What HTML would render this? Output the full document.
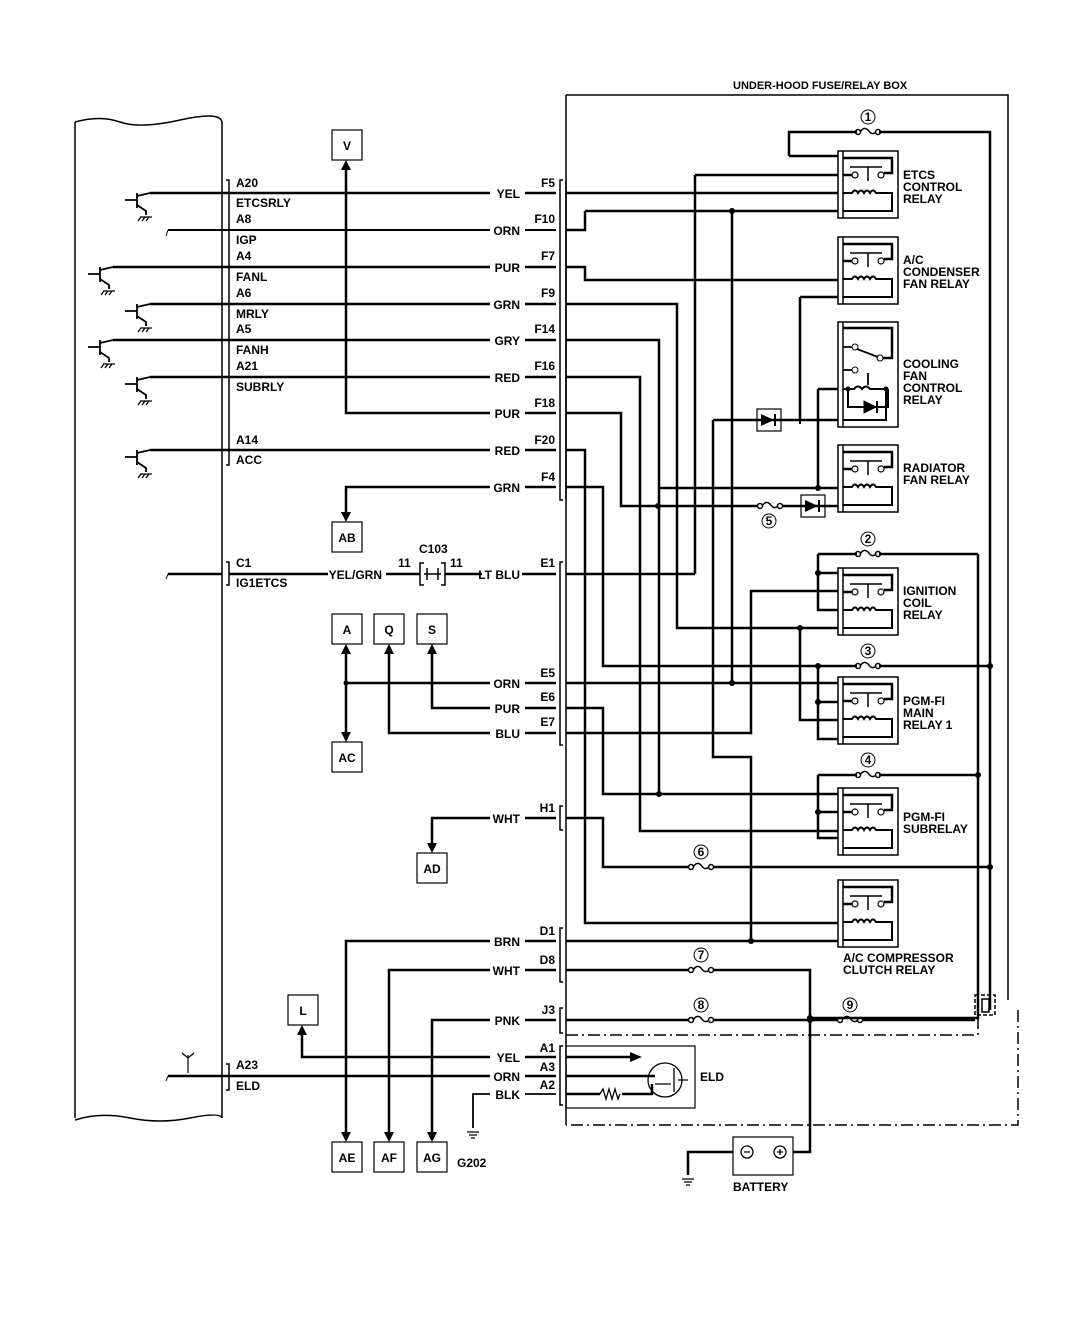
<!DOCTYPE html>
<html><head><meta charset="utf-8"><style>
html,body{margin:0;padding:0;background:#fff;}
svg{display:block;}
text{font-family:"Liberation Sans",sans-serif;font-weight:bold;font-size:12px;fill:#000;}
</style></head><body>
<svg width="1072" height="1334" viewBox="0 0 1072 1334" xmlns="http://www.w3.org/2000/svg">
<defs>
<g id="rl" fill="none" stroke="#000">
<rect x="0" y="0" width="60" height="67" stroke-width="1.5"/>
<line x1="5" y1="0" x2="5" y2="67" stroke-width="1.5"/>
<path d="M5,7 H54 V22 H46" stroke-width="2.5"/>
<circle cx="17" cy="24" r="3" stroke-width="1.2"/><circle cx="43" cy="24" r="3" stroke-width="1.2"/>
<path d="M5,24 H14" stroke-width="2.5"/>
<path d="M12,16 H44 M30,16 V30" stroke-width="1.5"/>
<path d="M5,42 H14 Q17,37 20,42 Q23,37 26,42 Q29,37 32,42 Q35,37 38,42 H54 V60 H5" stroke-width="2"/>
</g>
<g id="tr" fill="none" stroke="#000" stroke-width="1.3">
<path d="M-25,7 H-13 M-13,0 V15 M-13,3 L0,0 M-13,12 L-4,18 V22" stroke-width="1.8"/>
<path d="M-10,24 H2 M-9,24 L-12,28 M-5,24 L-8,28 M-1,24 L-4,28"/>
</g>
<g id="fuse" fill="none" stroke="#000" stroke-width="1.5">
<circle cx="-10" cy="0" r="2.5"/><circle cx="10" cy="0" r="2.5"/>
<path d="M-8,0 Q-4,-6 0,-2 Q4,4 8,0"/>
</g>
<g id="gnd" stroke="#000" stroke-width="1.3"><path d="M-6,0 H6 M-4,3 H4 M-2,6 H2"/></g>
</defs>

<g fill="none" stroke="#000" stroke-width="1.5">
<path d="M75,122 Q100,115 120,122 T180,120 T222,122"/>
<path d="M75,1120 Q100,1112 130,1118 T190,1118 T222,1118"/>
<line x1="75" y1="122" x2="75" y2="1118"/>
<line x1="222" y1="122" x2="222" y2="1118"/>
<path d="M226,180 H229 V465 H226 M229,180 V465"/>
<path d="M226,562 H229 V585 H226"/>
<path d="M226,1064 H229 V1090 H226"/>
<path d="M563,180 H560 V500 H563 M566,180 V500"/>
<path d="M563,562 H560 V745 H563"/>
<path d="M563,806 H560 V830 H563"/>
<path d="M563,928 H560 V982 H563"/>
<path d="M563,1008 H560 V1033 H563"/>
<path d="M563,1046 H560 V1105 H563"/>
<path d="M566,95 H1008 V1000"/>
<line x1="566" y1="95" x2="566" y2="1125"/>
<path d="M566,1035 H978 V1015" stroke-dasharray="12,4,2,4"/>
<path d="M1018,1010 V1125 H566" stroke-dasharray="12,4,2,4"/>
<rect x="975" y="995" width="20" height="20" stroke-dasharray="4,2"/>
<rect x="982" y="999" width="7" height="13"/>
</g>

<g fill="none" stroke="#000" stroke-width="2.5">
<path d="M150,193 H490 M525,193 H556 M566,193 H838"/>
<path d="M168,230 H490 M525,230 H556" stroke-width="2"/>
<path d="M113,267 H490 M525,267 H556"/>
<path d="M150,304 H490 M525,304 H556"/>
<path d="M113,340 H490 M525,340 H556"/>
<path d="M150,377 H490 M525,377 H556"/>
<path d="M346,165 V413 H490 M525,413 H556"/>
<path d="M150,450 H490 M525,450 H556"/>
<path d="M346,518 V487 H490 M525,487 H556"/>
<path d="M168,574 H222 M229,574 H328 M386,574 H420 M445,574 H482 M522,574 H556"/>
<path d="M346,648 V740 M346,683 H490 M525,683 H556"/>
<path d="M432,648 V708 H490 M525,708 H556"/>
<path d="M389,648 V733 H490 M525,733 H556"/>
<path d="M432,849 V818 H490 M525,818 H556"/>
<path d="M346,1138 V941 H490 M525,941 H556"/>
<path d="M389,1138 V970 H490 M525,970 H556"/>
<path d="M432,1138 V1020 H490 M525,1020 H556"/>
<path d="M302,1030 V1057 H490 M525,1057 H556"/>
<path d="M168,1076 H490 M525,1076 H556"/>
<path d="M490,1094 H473 V1128 M525,1094 H556" stroke-width="1.8"/>
<path d="M585,211 H838"/>
<path d="M566,230 H585 V211"/>
<path d="M566,267 H585 V280 H838"/>
<path d="M695,175 H838 M695,175 V574 M566,574 H695"/>
<path d="M732,211 V683"/>
<path d="M566,304 H677 V628 H838 M800,628 V720 H838"/>
<path d="M566,340 H659 V794 M659,488 H838"/>
<path d="M566,377 H640 V831 H838"/>
<path d="M566,413 H621 V506 H757 M783,506 H838"/>
<path d="M566,450 H585 V923 H838"/>
<path d="M566,487 H603 V666 H857 M879,666 H990"/>
<path d="M800,297 H838 M800,297 V420"/>
<path d="M713,420 H838 M713,420 V757 H751 V941"/>
<path d="M818,389 H838 M818,389 V488"/>
<path d="M566,683 H838"/>
<path d="M566,708 H603 V794 H838"/>
<path d="M566,733 H751 V591 H838"/>
<path d="M566,818 H603 V867 H688 M714,867 H990"/>
<path d="M566,941 H838"/>
<path d="M818,554 H857 M879,554 H978 M818,554 V610 H838 M818,573 H838"/>
<path d="M818,666 V739 H838 M818,702 H838"/>
<path d="M818,775 H857 M879,775 H978 M818,775 V838 H838 M818,812 H838"/>
<path d="M789,156 H838 M789,156 V132 H857 M879,132 H990 V1010"/>
<path d="M978,554 V1018 H810"/>
<path d="M566,970 H688 M714,970 H810 V1125"/>
<path d="M566,1020 H688 M714,1020 H838 M862,1020 H975"/>
<path d="M566,1057 H632"/>
<path d="M566,1076 H655 M566,1094 H600 M622,1094 H652 V1084"/>
<path d="M793,1152 H810 V1125 M733,1152 H688 V1175"/>
</g>

<g fill="#000">
<circle cx="732" cy="211" r="3"/><circle cx="658" cy="506" r="3"/><circle cx="818" cy="488" r="3"/>
<circle cx="818" cy="573" r="3"/><circle cx="800" cy="628" r="3"/><circle cx="818" cy="666" r="3"/>
<circle cx="990" cy="666" r="3"/><circle cx="732" cy="683" r="3"/><circle cx="818" cy="702" r="3"/>
<circle cx="978" cy="775" r="3"/><circle cx="659" cy="794" r="3"/><circle cx="818" cy="812" r="3"/>
<circle cx="990" cy="867" r="3"/><circle cx="751" cy="941" r="3"/><circle cx="810" cy="1018" r="3"/>
<circle cx="810" cy="1020" r="3"/><circle cx="346" cy="683" r="2.5"/>
<path d="M346,160 l-5,10 h10z"/><path d="M346,522 l-5,-10 h10z"/>
<path d="M346,644 l-5,10 h10z"/><path d="M346,742 l-5,-10 h10z"/>
<path d="M389,644 l-5,10 h10z"/><path d="M432,644 l-5,10 h10z"/>
<path d="M432,853 l-5,-10 h10z"/>
<path d="M346,1142 l-5,-10 h10z"/><path d="M389,1142 l-5,-10 h10z"/><path d="M432,1142 l-5,-10 h10z"/>
<path d="M302,1025 l-5,10 h10z"/><path d="M642,1057 l-12,-5 v10z"/>
</g>

<use href="#rl" x="838" y="151"/>
<use href="#rl" x="838" y="237"/>
<use href="#rl" x="838" y="445"/>
<use href="#rl" x="838" y="568"/>
<use href="#rl" x="838" y="677"/>
<use href="#rl" x="838" y="788"/>
<use href="#rl" x="838" y="880"/>
<g fill="none" stroke="#000">
<rect x="838" y="322" width="60" height="105" stroke-width="1.5"/>
<line x1="843" y1="322" x2="843" y2="427" stroke-width="1.5"/>
<path d="M843,328 H892 V358 H883" stroke-width="2.5"/>
<circle cx="855" cy="347" r="3"/><circle cx="880" cy="358" r="3"/><circle cx="855" cy="370" r="3"/>
<path d="M843,347 H852 M843,370 H852 M857,349 L878,357 M868,373 V385" stroke-width="1.8"/>
<path d="M843,389 H854 Q858,384 862,389 Q866,384 870,389 H886 V420 H843 M848,389 V407 H888 V389" stroke-width="2"/>
<path d="M864,401 v12 l12,-6z" fill="#000"/><path d="M877,401 v12" stroke-width="2"/>
</g>
<g fill="#000"><circle cx="848" cy="389" r="2.5"/><circle cx="886" cy="389" r="2.5"/></g>
<g fill="none" stroke="#000" stroke-width="1.2">
<rect x="757" y="409" width="24" height="22"/><rect x="801" y="495" width="24" height="22"/>
</g>
<g fill="#000"><path d="M761,414 v12 l13,-6z"/><rect x="774" y="414" width="2" height="12"/>
<path d="M805,500 v12 l13,-6z"/><rect x="818" y="500" width="2" height="12"/></g>
<line x1="800" y1="420" x2="800" y2="424" stroke="#000" stroke-width="2"/>

<use href="#fuse" x="868" y="132"/><use href="#fuse" x="868" y="554"/>
<use href="#fuse" x="868" y="666"/><use href="#fuse" x="868" y="775"/>
<use href="#fuse" x="770" y="506"/><use href="#fuse" x="701" y="867"/>
<use href="#fuse" x="701" y="970"/><use href="#fuse" x="701" y="1020"/>
<use href="#fuse" x="850" y="1020"/>
<g fill="none" stroke="#000" stroke-width="1"><circle cx="868" cy="117" r="7"/><circle cx="868" cy="539" r="7"/>
<circle cx="868" cy="651" r="7"/><circle cx="868" cy="760" r="7"/><circle cx="769" cy="521" r="7"/>
<circle cx="701" cy="852" r="7"/><circle cx="701" cy="955" r="7"/><circle cx="701" cy="1005" r="7"/>
<circle cx="850" cy="1005" r="7"/></g>
<g text-anchor="middle" style="font-size:10px">
<text x="868" y="121">1</text><text x="868" y="543">2</text><text x="868" y="655">3</text><text x="868" y="764">4</text>
<text x="769" y="525">5</text><text x="701" y="856">6</text><text x="701" y="959">7</text><text x="701" y="1009">8</text><text x="850" y="1009">9</text>
</g>

<use href="#tr" x="150" y="193"/><use href="#tr" x="113" y="267"/><use href="#tr" x="150" y="304"/>
<use href="#tr" x="113" y="340"/><use href="#tr" x="150" y="377"/><use href="#tr" x="150" y="450"/>
<path d="M168,230 l-2,6 M168,574 l-2,5 M168,1076 l-2,5" stroke="#000" stroke-width="1"/>
<path d="M188,1055 v18 M182,1053 l6,5 l6,-5" fill="none" stroke="#000" stroke-width="1.2"/>

<g fill="none" stroke="#000" stroke-width="1.5"><path d="M424,563 h-4 v22 h4 M441,563 h4 v22 h-4 M424,574 h17 M427,568 v12 M438,568 v12"/></g>

<g fill="#fff" stroke="#000" stroke-width="1.2">
<rect x="332" y="130" width="30" height="30"/><rect x="332" y="522" width="30" height="30"/>
<rect x="332" y="614" width="30" height="30"/><rect x="374" y="614" width="30" height="30"/><rect x="417" y="614" width="30" height="30"/>
<rect x="332" y="742" width="30" height="30"/><rect x="417" y="853" width="30" height="30"/>
<rect x="288" y="995" width="30" height="30"/>
<rect x="332" y="1142" width="30" height="30"/><rect x="374" y="1142" width="30" height="30"/><rect x="417" y="1142" width="30" height="30"/>
<rect x="733" y="1137" width="60" height="38"/>
<rect x="566" y="1046" width="129" height="62" fill="none"/>
</g>
<g fill="none" stroke="#000" stroke-width="1.3">
<circle cx="665" cy="1080" r="17"/><path d="M674,1068 v24 M678,1080 h10 M655,1084 h16" />
<path d="M600,1094 l3,-5 l3,10 l3,-10 l3,10 l3,-10 l3,10 l2,-5"/>
<circle cx="747" cy="1152" r="6"/><circle cx="780" cy="1152" r="6"/>
<path d="M744,1152 h6 M777,1152 h6 M780,1149 v6"/>
</g>
<use href="#gnd" x="473" y="1132"/><use href="#gnd" x="688" y="1179"/>

<g>
<text x="733" y="89" style="font-size:11px">UNDER-HOOD FUSE/RELAY BOX</text>
<text x="347" y="150" text-anchor="middle">V</text><text x="347" y="542" text-anchor="middle">AB</text>
<text x="347" y="634" text-anchor="middle">A</text><text x="389" y="634" text-anchor="middle">Q</text><text x="432" y="634" text-anchor="middle">S</text>
<text x="347" y="762" text-anchor="middle">AC</text><text x="432" y="873" text-anchor="middle">AD</text>
<text x="303" y="1015" text-anchor="middle">L</text>
<text x="347" y="1162" text-anchor="middle">AE</text><text x="389" y="1162" text-anchor="middle">AF</text><text x="432" y="1162" text-anchor="middle">AG</text>
<text x="457" y="1167">G202</text><text x="733" y="1191">BATTERY</text><text x="700" y="1081">ELD</text>
<text x="236" y="187">A20</text><text x="236" y="207">ETCSRLY</text><text x="236" y="223">A8</text><text x="236" y="244">IGP</text>
<text x="236" y="260">A4</text><text x="236" y="281">FANL</text><text x="236" y="297">A6</text><text x="236" y="318">MRLY</text>
<text x="236" y="333">A5</text><text x="236" y="354">FANH</text><text x="236" y="370">A21</text><text x="236" y="391">SUBRLY</text>
<text x="236" y="444">A14</text><text x="236" y="464">ACC</text>
<text x="236" y="567">C1</text><text x="236" y="587">IG1ETCS</text>
<text x="236" y="1069">A23</text><text x="236" y="1090">ELD</text>
<text x="419" y="553">C103</text><text x="398" y="567">11</text><text x="450" y="567">11</text>
</g>
<g text-anchor="end">
<text x="520" y="198">YEL</text><text x="520" y="235">ORN</text><text x="520" y="272">PUR</text><text x="520" y="309">GRN</text>
<text x="520" y="345">GRY</text><text x="520" y="382">RED</text><text x="520" y="418">PUR</text><text x="520" y="455">RED</text>
<text x="520" y="492">GRN</text><text x="382" y="579">YEL/GRN</text><text x="520" y="579">LT BLU</text>
<text x="520" y="688">ORN</text><text x="520" y="713">PUR</text><text x="520" y="738">BLU</text><text x="520" y="823">WHT</text>
<text x="520" y="946">BRN</text><text x="520" y="975">WHT</text><text x="520" y="1025">PNK</text>
<text x="520" y="1062">YEL</text><text x="520" y="1081">ORN</text><text x="520" y="1099">BLK</text>
<text x="555" y="187">F5</text><text x="555" y="223">F10</text><text x="555" y="260">F7</text><text x="555" y="297">F9</text>
<text x="555" y="333">F14</text><text x="555" y="370">F16</text><text x="555" y="407">F18</text><text x="555" y="444">F20</text>
<text x="555" y="481">F4</text><text x="555" y="567">E1</text><text x="555" y="677">E5</text><text x="555" y="701">E6</text>
<text x="555" y="726">E7</text><text x="555" y="812">H1</text><text x="555" y="935">D1</text><text x="555" y="964">D8</text>
<text x="555" y="1014">J3</text><text x="555" y="1052">A1</text><text x="555" y="1071">A3</text><text x="555" y="1089">A2</text>
</g>
<g>
<text x="903" y="179">ETCS</text><text x="903" y="191">CONTROL</text><text x="903" y="203">RELAY</text>
<text x="903" y="264">A/C</text><text x="903" y="276">CONDENSER</text><text x="903" y="288">FAN RELAY</text>
<text x="903" y="368">COOLING</text><text x="903" y="380">FAN</text><text x="903" y="392">CONTROL</text><text x="903" y="404">RELAY</text>
<text x="903" y="472">RADIATOR</text><text x="903" y="484">FAN RELAY</text>
<text x="903" y="595">IGNITION</text><text x="903" y="607">COIL</text><text x="903" y="619">RELAY</text>
<text x="903" y="705">PGM-FI</text><text x="903" y="717">MAIN</text><text x="903" y="729">RELAY 1</text>
<text x="903" y="821">PGM-FI</text><text x="903" y="833">SUBRELAY</text>
<text x="843" y="962">A/C COMPRESSOR</text><text x="843" y="974">CLUTCH RELAY</text>
</g>
</svg>
</body></html>
